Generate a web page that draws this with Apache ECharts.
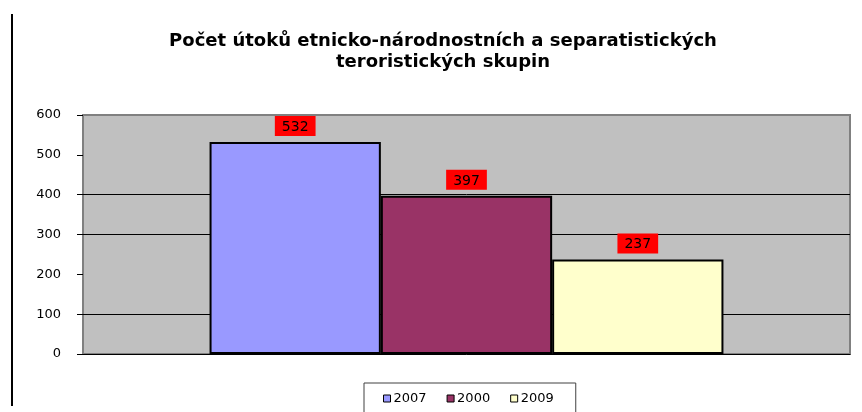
<!DOCTYPE html>
<html><head><meta charset="utf-8">
<script src="https://cdn.jsdelivr.net/npm/echarts@6/dist/echarts.min.js"></script>
<style>html,body{margin:0;padding:0;background:#fff}#c{width:862px;height:412px}</style>
</head><body><div id="c"></div>
<script>
const titleText = 'Počet útoků etnicko-národnostních a separatistických\nteroristických skupin';
const categories = [''];
const seriesNames = ['2007', '2000', '2009'];
const seriesValues = [[532], [397], [237]];
const seriesColors = ['#9999FF', '#993366', '#FFFFCC'];
const gridLineValues = [100, 300, 400];

const chart = echarts.init(document.getElementById('c'));
const font = 'DejaVu Sans, Verdana, sans-serif';
const series = seriesNames.map((n, i) => ({
  name: n, type: 'bar', data: seriesValues[i],
  barGap: '0%', barCategoryGap: '33%',
  itemStyle: { color: seriesColors[i], borderColor: '#000', borderWidth: 2 },
  label: { show: true, position: 'top', distance: 6, backgroundColor: '#FF0000',
    color: '#000', fontFamily: font, fontSize: 14, padding: [4, 7, 2, 7] },
  markLine: i === 0 ? { silent: true, symbol: 'none', label: { show: false },
    lineStyle: { color: '#000', type: 'solid', width: 1 },
    data: gridLineValues.map(v => ({ yAxis: v })), z: 1 } : undefined,
  z: 3
}));
chart.setOption({
  animation: false,
  backgroundColor: '#fff',
  title: { text: titleText, left: 438, top: 26, textAlign: 'center',
    textStyle: { fontFamily: font, fontSize: 18, fontWeight: 'bold', color: '#000', lineHeight: 21 } },
  grid: { left: 83, right: 12, top: 115, bottom: 58, show: true,
    backgroundColor: '#C0C0C0', borderColor: '#808080', borderWidth: 2 },
  legend: { data: seriesNames, left: 364, top: 383,
    padding: [9, 22, 10, 19], itemGap: 20,
    borderColor: '#404040', borderWidth: 1, icon: 'rect', itemWidth: 7, itemHeight: 7,
    itemStyle: { borderColor: '#000', borderWidth: 1 },
    textStyle: { fontFamily: font, fontSize: 13, color: '#000', padding: [0, 0, 0, -2] } },
  xAxis: { type: 'category', data: categories, axisTick: { show: false },
    axisLabel: { show: false }, axisLine: { lineStyle: { color: '#000', width: 1 } } },
  yAxis: { type: 'value', min: 0, max: 600, interval: 100,
    axisLine: { show: true, lineStyle: { color: '#808080', width: 2 } },
    axisTick: { show: true, length: 6, lineStyle: { color: '#000' } },
    splitLine: { show: false },
    axisLabel: { fontFamily: font, fontSize: 13, color: '#000', margin: 22 } },
  graphic: [{ type: 'line', shape: { x1: 12, y1: 14, x2: 12, y2: 406 },
    style: { stroke: '#000', lineWidth: 2 } }],
  series: series
});
</script></body></html>
